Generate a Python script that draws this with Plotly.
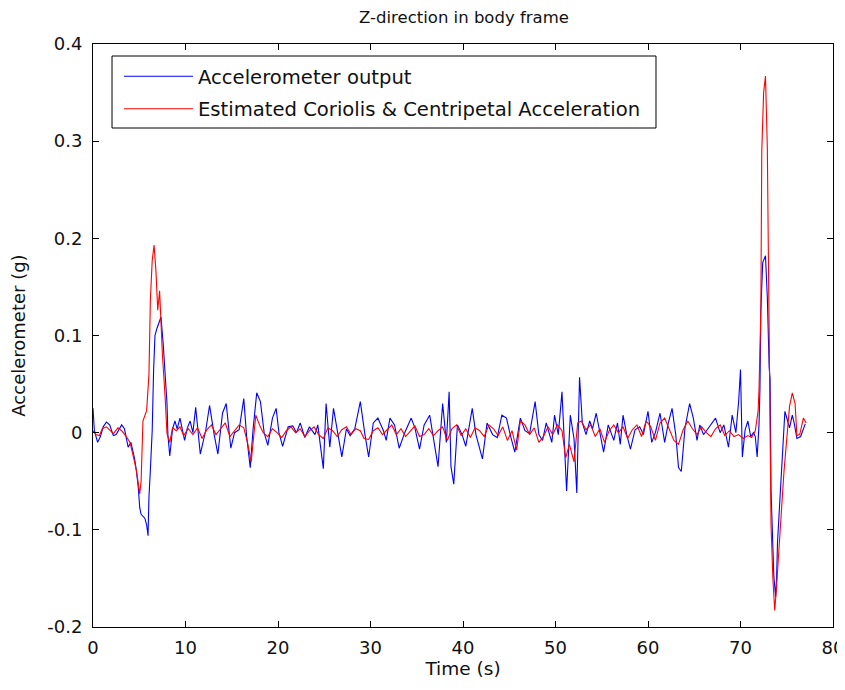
import plotly.graph_objects as go

# ---------------- data ----------------
t_accel = [0, 0.15, 0.5, 0.8, 1.1, 1.45, 1.8, 2.2, 2.5, 2.8, 3.1, 3.4, 3.8, 4.1, 4.5, 4.7, 4.9, 5.05, 5.2, 5.6,
           5.8, 5.95, 6.05, 6.2, 6.4, 6.55, 6.7, 6.9, 7.1, 7.35, 7.6, 7.8, 8.0, 8.1, 8.3, 8.6, 8.86, 9.1, 9.4, 9.9,
           10.2, 10.5, 10.8, 11.1, 11.6, 12.2, 12.6, 13.1, 13.5, 14.0, 14.4, 14.9, 15.3, 15.8, 16.3, 16.6, 17.0, 17.3, 17.7, 18.1,
           18.5, 18.9, 19.4, 19.8, 20.1, 20.5, 21.1, 21.6, 22.0, 22.4, 22.9, 23.4, 24.0, 24.3, 24.9, 25.2, 25.6, 26.0, 26.3, 26.9,
           27.4, 27.8, 28.3, 28.9, 29.4, 29.8, 30.3, 30.8, 31.4, 31.7, 32.1, 32.6, 33.1, 33.7, 34.4, 34.8, 35.3, 35.8, 36.4, 36.8,
           37.3, 37.8, 38.2, 38.5, 38.7, 39.0, 39.4, 39.9, 40.3, 41.0, 41.4, 42.1, 42.6, 43.2, 43.7, 44.2, 44.7, 45.1, 45.6, 46.2,
           46.7, 47.2, 47.8, 48.2, 48.6, 49.0, 49.6, 49.9, 50.3, 50.7, 51.0, 51.2, 51.6, 52.0, 52.3, 52.6, 52.9, 53.3, 53.7, 54.0,
           54.4, 54.8, 55.2, 55.7, 56.3, 56.7, 57.0, 57.3, 57.7, 58.1, 58.6, 59.1, 59.5, 60.0, 60.4, 60.8, 61.3, 61.8, 62.2, 62.6,
           63.0, 63.3, 63.6, 64.0, 64.5, 64.9, 65.3, 65.6, 66.0, 66.4, 66.8, 67.3, 67.8, 68.2, 68.7, 69.1, 69.5, 69.8, 70.0, 70.2,
           70.5, 70.8, 71.1, 71.4, 71.6, 71.8, 72.0, 72.1, 72.2, 72.4, 72.7, 72.9, 73.1, 73.2, 73.3, 73.4, 73.6, 73.8, 73.9, 74.0,
           74.2, 74.4, 74.6, 74.8, 75.1, 75.3, 75.6, 75.8, 76.1, 76.5, 77.0]
accel = [0.025, 0.002, -0.01, -0.004, 0.006, 0.011, 0.008, -0.003, -0.002, 0.003, 0.008, 0.004, -0.015, -0.01, -0.027, -0.04, -0.057, -0.077, -0.084, -0.088,
         -0.095, -0.106, -0.066, -0.039, 0.002, 0.064, 0.1, 0.107, 0.112, 0.119, 0.09, 0.06, 0.03, -0.003, -0.024, 0.004, 0.012, 0.004, 0.015, -0.008,
         0.005, 0.012, 0.0, 0.026, -0.022, 0.003, 0.028, -0.002, -0.022, 0.02, 0.03, -0.016, 0.0, 0.003, 0.035, -0.003, -0.036, 0.003, 0.041, 0.032,
         0.0, -0.013, 0.015, 0.025, 0.0, -0.014, 0.006, 0.007, 0.0, 0.01, -0.005, 0.006, -0.002, 0.008, -0.037, 0.03, -0.015, 0.025, 0.008, -0.025,
         0.004, -0.003, 0.004, 0.032, -0.002, -0.025, 0.01, 0.015, 0.002, -0.008, 0.015, 0.008, -0.016, 0.0, 0.015, 0.005, -0.017, 0.008, 0.018, -0.005,
         -0.035, 0.03, -0.01, 0.042, -0.035, -0.053, 0.008, -0.002, -0.014, 0.025, -0.002, -0.027, 0.01, -0.002, -0.005, 0.018, 0.015, -0.002, -0.02, 0.015,
         0.002, -0.001, 0.032, -0.002, -0.008, 0.01, -0.01, 0.018, -0.002, 0.042, -0.027, -0.06, 0.018, -0.006, -0.062, 0.057, 0.01, -0.002, 0.012, 0.004,
         0.02, -0.002, -0.02, 0.008, -0.008, 0.01, -0.012, 0.018, -0.002, -0.017, 0.003, 0.006, -0.002, 0.022, -0.01, 0.0, 0.02, -0.01, 0.01, 0.025,
         -0.002, -0.036, -0.04, 0.005, 0.03, 0.015, -0.008, 0.008, -0.002, 0.003, 0.008, 0.015, 0.0, 0.008, -0.015, 0.018, 0.0, 0.032, 0.065, -0.025,
         0.003, 0.012, -0.004, 0.0, -0.004, -0.025, 0.008, 0.044, 0.126, 0.175, 0.182, 0.139, 0.067, 0.055, -0.059, -0.092, -0.147, -0.169, -0.15, -0.113,
         -0.08, -0.04, -0.014, 0.022, 0.012, 0.005, 0.018, 0.01, -0.006, -0.004, 0.009]

t_est = [0, 0.3, 0.7, 1.0, 1.45, 1.8, 2.2, 2.7, 3.1, 3.6, 4.0, 4.3, 4.7, 5.05, 5.2, 5.4, 5.8, 6.05, 6.2, 6.4,
         6.6, 6.8, 7.0, 7.2, 7.5, 7.8, 8.0, 8.3, 8.6, 9.0, 9.4, 9.8, 10.3, 10.8, 11.3, 11.8, 12.3, 12.8, 13.3, 13.8,
         14.3, 14.8, 15.3, 15.8, 16.3, 16.7, 17.1, 17.6, 18.0, 18.4, 18.9, 19.4, 19.9, 20.4, 20.9, 21.4, 21.9, 22.4, 22.9, 23.4,
         23.9, 24.4, 24.9, 25.4, 25.9, 26.4, 26.9, 27.4, 27.9, 28.4, 28.9, 29.3, 29.8, 30.3, 30.8, 31.3, 31.8, 32.3, 32.8, 33.3,
         33.8, 34.3, 34.8, 35.3, 35.8, 36.3, 36.8, 37.3, 37.8, 38.3, 38.8, 39.3, 39.8, 40.3, 40.8, 41.3, 41.8, 42.3, 42.8, 43.3,
         43.8, 44.3, 44.8, 45.3, 45.8, 46.2, 46.7, 47.2, 47.7, 48.2, 48.7, 49.2, 49.7, 50.2, 50.7, 51.1, 51.5, 52.0, 52.4, 52.8,
         53.3, 53.8, 54.3, 54.8, 55.3, 55.8, 56.3, 56.8, 57.3, 57.8, 58.3, 58.8, 59.3, 59.8, 60.3, 60.8, 61.3, 61.8, 62.3, 62.8,
         63.3, 63.8, 64.3, 64.8, 65.3, 65.8, 66.3, 66.8, 67.3, 67.8, 68.3, 68.8, 69.3, 69.8, 70.3, 70.8, 71.2, 71.6, 71.9, 72.0,
         72.2, 72.3, 72.5, 72.7, 72.9, 73.1, 73.3, 73.5, 73.7, 73.9, 74.1, 74.4, 74.7, 75.0, 75.3, 75.6, 75.9, 76.1, 76.4, 76.8,
         77.1]
est = [0.002, -0.002, -0.003, 0.004, 0.006, 0.003, -0.001, 0.005, 0.002, -0.004, -0.01, -0.022, -0.039, -0.063, -0.05, 0.012, 0.023, 0.06, 0.136, 0.177,
       0.193, 0.167, 0.126, 0.146, 0.081, 0.036, -0.001, -0.01, 0.005, 0.002, 0.006, -0.003, 0.004, -0.002, 0.005, -0.006, 0.003, 0.008, -0.002, 0.004,
       0.01, -0.004, 0.002, 0.008, 0.005, -0.01, -0.03, 0.018, 0.008, 0.0, -0.004, 0.004, 0.0, -0.005, 0.002, 0.006, 0.0, 0.004, -0.004, 0.002,
       0.006, -0.002, -0.006, 0.005, 0.002, -0.004, 0.003, 0.006, -0.002, 0.004, 0.002, -0.006, -0.007, 0.002, 0.005, -0.002, 0.003, 0.008, -0.002, 0.004,
       -0.004, 0.002, 0.007, -0.004, -0.002, 0.004, -0.003, 0.002, 0.006, -0.008, 0.004, 0.008, -0.003, 0.004, -0.005, 0.005, 0.002, -0.004, 0.008, 0.004,
       -0.003, 0.006, -0.008, 0.002, -0.018, 0.012, 0.008, -0.002, 0.005, -0.01, -0.004, 0.006, -0.002, 0.008, 0.002, -0.026, -0.012, -0.03, 0.01, 0.012,
       0.003, 0.008, -0.004, 0.004, -0.01, 0.002, 0.008, 0.0, 0.006, -0.006, 0.003, 0.008, -0.004, 0.012, 0.006, -0.008, 0.01, 0.015, 0.004, -0.008,
       -0.012, 0.003, 0.012, 0.004, -0.002, 0.006, 0.0, -0.004, 0.004, 0.008, -0.003, 0.002, -0.004, -0.002, -0.006, -0.003, -0.005, 0.002, 0.022, 0.044,
       0.126, 0.29, 0.35, 0.367, 0.293, 0.067, -0.095, -0.15, -0.183, -0.158, -0.132, -0.084, -0.04, -0.003, 0.027, 0.041, 0.03, -0.003, -0.002, 0.015,
       0.01]

x_ticks = [0, 10, 20, 30, 40, 50, 60, 70, 80]
y_ticks = [-0.2, -0.1, 0, 0.1, 0.2, 0.3, 0.4]
y_tick_text = ["-0.2", "-0.1", "0", "0.1", "0.2", "0.3", "0.4"]

FONT = "DejaVu Sans, Verdana, sans-serif"

fig = go.Figure()
fig.add_trace(go.Scatter(x=t_accel, y=accel, mode="lines", name="Accelerometer output",
                         line=dict(color="#0000FF", width=1.1), legendgroup="a"))
fig.add_trace(go.Scatter(x=t_est, y=est, mode="lines", name="Estimated Coriolis & Centripetal Acceleration",
                         line=dict(color="#FF0000", width=1.1), legendgroup="b"))

axis_common = dict(showline=True, linecolor="black", linewidth=1, mirror="allticks",
                   ticks="inside", ticklen=6, tickcolor="black", showgrid=False, zeroline=False,
                   automargin=False, ticklabeloverflow="allow",
                   tickfont=dict(family=FONT, size=18, color="#111111"))

# legend frame (drawn as a box; the legend itself sits inside it)
fig.add_shape(type="rect", xref="paper", yref="paper",
              x0=0.0257, x1=0.7608, y0=0.8559, y1=0.9794,
              line=dict(color="black", width=1), fillcolor="white", layer="above")

fig.update_layout(
    width=837, height=674,
    paper_bgcolor="white", plot_bgcolor="white",
    margin=dict(l=85, r=12, t=36, b=55, autoexpand=False),
    title=dict(text="Z-direction in body frame", x=0.5448, xanchor="center", y=0.9868, yanchor="middle",
               font=dict(family=FONT, size=16.5, color="#111111")),
    xaxis=dict(range=[0, 80], tickvals=x_ticks, ticklabelstandoff=4,
               title=dict(text="Time (s)", font=dict(family=FONT, size=18.5, color="#111111"), standoff=3),
               **axis_common),
    yaxis=dict(range=[-0.2, 0.4], tickvals=y_ticks, ticktext=y_tick_text, ticklabelstandoff=6,
               title=dict(text="Accelerometer (g)", font=dict(family=FONT, size=18, color="#111111"), standoff=20),
               **axis_common),
    legend=dict(x=0.0351, y=0.9777, xanchor="left", yanchor="top",
                bgcolor="rgba(0,0,0,0)", borderwidth=0,
                font=dict(family=FONT, size=19.6, color="#111111"),
                itemwidth=69, tracegroupgap=4, traceorder="grouped"),
    showlegend=True,
)

fig.write_html("out.html")
